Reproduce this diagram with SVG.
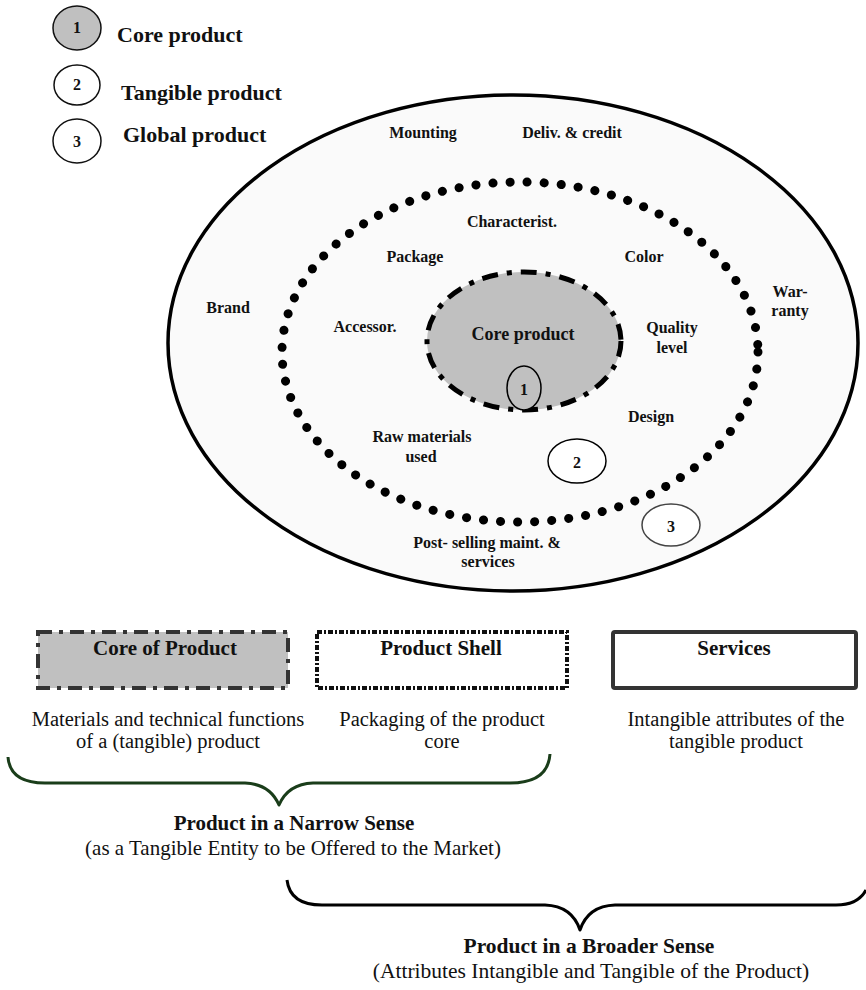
<svg xmlns="http://www.w3.org/2000/svg" width="866" height="990" viewBox="0 0 866 990">
<style>
.lb{font-family:"Liberation Serif","Times New Roman",serif;font-weight:bold;font-size:16px;fill:#111;text-anchor:middle}
.lg{font-family:"Liberation Serif","Times New Roman",serif;font-weight:bold;font-size:22px;fill:#111}
.bt{font-family:"Liberation Serif","Times New Roman",serif;font-weight:bold;font-size:21px;fill:#111;text-anchor:middle}
.rt{font-family:"Liberation Serif","Times New Roman",serif;font-size:20.5px;fill:#111;text-anchor:middle}
.st{font-family:"Liberation Serif","Times New Roman",serif;font-size:21px;fill:#111;text-anchor:middle}
.num{font-family:"Liberation Serif","Times New Roman",serif;font-weight:bold;font-size:16px;fill:#111;text-anchor:middle}
</style>
<rect width="866" height="990" fill="#fff"/>
<g id="legend">
  <g id="legend-1"><ellipse cx="77" cy="28" rx="24" ry="22" fill="#c0c0c0" stroke="#111" stroke-width="1.5"/><text class="num" x="77" y="33">1</text><text class="lg" x="117" y="42">Core product</text></g>
  <g id="legend-2"><ellipse cx="77" cy="85" rx="23" ry="20" fill="#fff" stroke="#111" stroke-width="1.5"/><text class="num" x="77" y="90">2</text><text class="lg" x="121" y="100">Tangible product</text></g>
  <g id="legend-3"><ellipse cx="77" cy="141" rx="24" ry="22" fill="#fff" stroke="#111" stroke-width="1.5"/><text class="num" x="77" y="147">3</text><text class="lg" x="123" y="142">Global product</text></g>
</g>
<g id="global-product">
  <ellipse cx="513" cy="343" rx="345" ry="248" fill="#fafafa" stroke="#000" stroke-width="3.5"/>
  <text class="lb" x="423" y="138">Mounting</text>
  <text class="lb" x="572" y="138">Deliv. &amp; credit</text>
  <text class="lb" x="228" y="313">Brand</text>
  <text class="lb" x="790" y="297">War-</text>
  <text class="lb" x="790" y="316">ranty</text>
  <text class="lb" x="487" y="548">Post- selling maint. &amp;</text>
  <text class="lb" x="488" y="567">services</text>
</g>
<g id="tangible-product">
  <ellipse cx="520" cy="352" rx="238" ry="170" fill="none" stroke="#000" stroke-width="9" stroke-linecap="round" stroke-dasharray="0.1 17"/>
  <text class="lb" x="512" y="227">Characterist.</text>
  <text class="lb" x="415" y="262">Package</text>
  <text class="lb" x="644" y="262">Color</text>
  <text class="lb" x="365" y="332">Accessor.</text>
  <text class="lb" x="672" y="333">Quality</text>
  <text class="lb" x="672" y="353">level</text>
  <text class="lb" x="651" y="422">Design</text>
  <text class="lb" x="422" y="442">Raw materials</text>
  <text class="lb" x="421" y="462">used</text>
</g>
<g id="core-product">
  <ellipse cx="524" cy="341" rx="97" ry="69" fill="#c0c0c0" stroke="#000" stroke-width="5" stroke-dasharray="16 9 5 9"/>
  <text class="lb" style="font-size:18px" x="523" y="340">Core product</text>
</g>
<g id="marker-1"><ellipse cx="524" cy="388" rx="17" ry="22" fill="#c0c0c0" stroke="#000" stroke-width="1.5"/><text class="num" x="524" y="395">1</text></g>
<g id="marker-2"><ellipse cx="577" cy="461" rx="29" ry="22" fill="#fff" stroke="#000" stroke-width="1.5"/><text class="num" x="577" y="468">2</text></g>
<g id="marker-3"><ellipse cx="671" cy="525" rx="29" ry="21" fill="#fff" stroke="#444" stroke-width="1.5"/><text class="num" x="671" y="532">3</text></g>
<g id="box-core">
  <rect x="38" y="632" width="250" height="56" fill="#c0c0c0" stroke="#333" stroke-width="4" stroke-dasharray="14 7 4 7"/>
  <text class="bt" x="165" y="655">Core of Product</text>
  <text class="rt" x="168" y="726">Materials and technical functions</text>
  <text class="rt" x="168" y="748">of a (tangible) product</text>
</g>
<g id="box-shell">
  <rect x="317" y="632" width="250" height="56" fill="#fff" stroke="#111" stroke-width="4" stroke-dasharray="5 2 2 2"/>
  <text class="bt" x="441" y="655">Product Shell</text>
  <text class="rt" x="442" y="726">Packaging of the product</text>
  <text class="rt" x="442" y="748">core</text>
</g>
<g id="box-services">
  <rect x="613" y="632" width="243" height="56" rx="2" fill="#fff" stroke="#333" stroke-width="4"/>
  <text class="bt" x="734" y="655">Services</text>
  <text class="rt" x="736" y="726">Intangible attributes of the</text>
  <text class="rt" x="736" y="748">tangible product</text>
</g>
<g id="connectors" fill="none" stroke-width="3" stroke-linejoin="round">
  <path d="M8 757 Q10 783 45 783 L245 783 Q270 784 279 805 Q288 784 313 783 L510 783 Q548 783 550 754" stroke="#1a3d1a"/>
  <path d="M287 880 Q290 905 322 905 L545 905 Q572 906 580 930 Q588 906 615 905 L836 905 Q858 905 866 890" stroke="#000"/>
</g>
<g id="labels">
  <text class="bt" x="294" y="830">Product in a Narrow Sense</text>
  <text class="st" x="293" y="855">(as a Tangible Entity to be Offered to the Market)</text>
  <text class="bt" style="font-size:21.5px" x="589" y="953">Product in a Broader Sense</text>
  <text class="st" style="font-size:21.5px" x="591" y="978">(Attributes Intangible and Tangible of the Product)</text>
</g>
</svg>
